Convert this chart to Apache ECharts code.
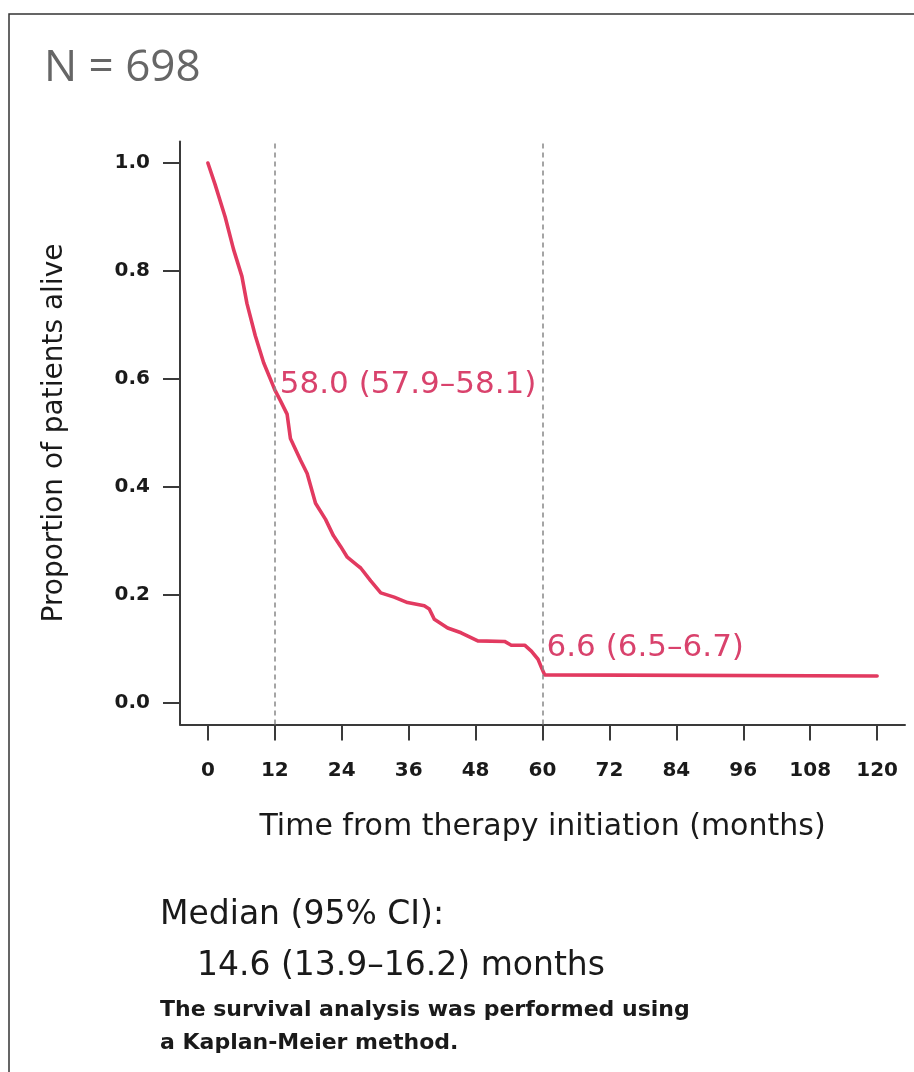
<!DOCTYPE html>
<html>
<head>
<meta charset="utf-8">
<script src="https://cdn.jsdelivr.net/npm/echarts@6/dist/echarts.min.js"></script>
<style>
  html, body { margin: 0; padding: 0; background: #fff; }
  #km { width: 914px; height: 1072px; }
</style>
</head>
<body>
<div id="km"></div>
<script>
// survival curve (months, proportion alive)
var months = [0, 1.3, 3.1, 4.6, 6.1, 7.0, 8.5, 10.0, 11.6, 12.0, 13.0, 14.2, 14.8, 16.6, 17.8, 19.3, 21.1, 22.5, 23.8, 25.0,
  26.8, 27.4, 29.2, 31.0, 33.4, 35.8, 38.8, 39.7, 40.6, 43.0, 45.4, 48.4, 53.2, 54.4, 56.8, 58.0, 59.2, 59.8, 60.4, 120];
var survival = [1.0, 0.96, 0.90, 0.84, 0.79, 0.74, 0.68, 0.63, 0.59, 0.58, 0.56, 0.535, 0.49, 0.45, 0.425, 0.37, 0.34, 0.31, 0.29, 0.27,
  0.255, 0.25, 0.226, 0.204, 0.196, 0.186, 0.18, 0.174, 0.155, 0.139, 0.13, 0.115, 0.114, 0.107, 0.107, 0.096, 0.081, 0.066, 0.052, 0.05];

var xTicks = [0, 12, 24, 36, 48, 60, 72, 84, 96, 108, 120];
var yTicks = [0, 0.2, 0.4, 0.6, 0.8, 1.0];
var refMonths = [12, 60];
// landmark survival % at 12 and 60 months
var landmarkAt = [[12, 0.58], [60, 0.066]];
var landmarkText = ['58.0 (57.9–58.1)', '6.6 (6.5–6.7)'];

var titleN = 'N = 698';
var xName = 'Time from therapy initiation (months)';
var yName = 'Proportion of patients alive';
var medianHead = 'Median (95% CI):';
var medianValue = '14.6 (13.9–16.2) months';
var methodNote = ['The survival analysis was performed using', 'a Kaplan-Meier method.'];

var font = 'DejaVu Sans';
var pink = '#e23a60';

var curve = months.map(function (m, i) { return [m, survival[i]]; });

var myChart = echarts.init(document.getElementById('km'));
var option = {
  backgroundColor: '#fff',
  animation: false,
  grid: {
    left: 180,
    right: 9,
    top: 141.4,
    bottom: 347.4,
    containLabel: false,
    outerBoundsMode: 'none'
  },
  xAxis: {
    type: 'value',
    min: -5,
    max: 125,
    name: xName,
    nameLocation: 'middle',
    nameGap: 88,
    nameTextStyle: { fontFamily: font, fontSize: 30, color: '#1a1a1a' },
    axisLine: { show: true, onZero: false, lineStyle: { color: '#3a3a3a', width: 2 } },
    axisTick: { show: true, length: 16, customValues: xTicks, lineStyle: { color: '#3a3a3a', width: 2 } },
    axisLabel: {
      customValues: xTicks,
      margin: 36,
      fontFamily: font,
      fontWeight: 'bold',
      fontSize: 20,
      color: '#1a1a1a'
    },
    splitLine: { show: false }
  },
  yAxis: {
    type: 'value',
    min: -0.04,
    max: 1.04,
    name: yName,
    nameLocation: 'middle',
    nameRotate: 90,
    nameGap: 111,
    nameTextStyle: { fontFamily: font, fontSize: 28, color: '#1a1a1a' },
    axisLine: { show: true, onZero: false, lineStyle: { color: '#3a3a3a', width: 2 } },
    axisTick: { show: true, length: 17, customValues: yTicks, lineStyle: { color: '#3a3a3a', width: 2 } },
    axisLabel: {
      customValues: yTicks,
      margin: 30,
      fontFamily: font,
      fontWeight: 'bold',
      fontSize: 20,
      color: '#1a1a1a',
      formatter: function (v) { return v.toFixed(1); }
    },
    splitLine: { show: false }
  },
  series: [{
    type: 'line',
    data: curve,
    showSymbol: false,
    symbol: 'none',
    lineStyle: { color: pink, width: 3.6, cap: 'round', join: 'round' },
    markLine: {
      silent: true,
      symbol: ['none', 'none'],
      label: { show: false },
      lineStyle: { color: '#888', type: [5, 4], width: 1.5 },
      data: refMonths.map(function (m) { return { xAxis: m }; })
    },
    markPoint: {
      silent: true,
      symbol: 'circle',
      symbolSize: 0,
      itemStyle: { color: 'transparent' },
      data: landmarkAt.map(function (p, i) {
        return {
          coord: p,
          label: {
            show: true,
            position: 'right',
            distance: 0,
            offset: i === 0 ? [5, -5] : [4, -19],
            formatter: landmarkText[i],
            fontFamily: font,
            fontSize: 31,
            color: '#d9426c'
          }
        };
      })
    }
  }],
  graphic: [
    {
      type: 'rect',
      silent: true,
      shape: { x: 9, y: 14, width: 920, height: 1080 },
      style: { fill: 'none', stroke: '#333', lineWidth: 1.5 }
    },
    {
      type: 'text', left: 44, top: 46,
      style: { text: titleN, font: '44px "Open Sans"', fill: '#666' }
    },
    {
      type: 'text', left: 160, top: 899,
      style: { text: medianHead, font: '33px "DejaVu Sans"', fill: '#1a1a1a' }
    },
    {
      type: 'text', left: 197, top: 950,
      style: { text: medianValue, font: '33px "DejaVu Sans"', fill: '#1a1a1a' }
    },
    {
      type: 'text', left: 160, top: 999,
      style: { text: methodNote[0], font: 'bold 22px "DejaVu Sans"', fill: '#1a1a1a' }
    },
    {
      type: 'text', left: 160, top: 1032,
      style: { text: methodNote[1], font: 'bold 22px "DejaVu Sans"', fill: '#1a1a1a' }
    }
  ]
};
myChart.setOption(option);
window.onresize = myChart.resize;
</script>
</body>
</html>
